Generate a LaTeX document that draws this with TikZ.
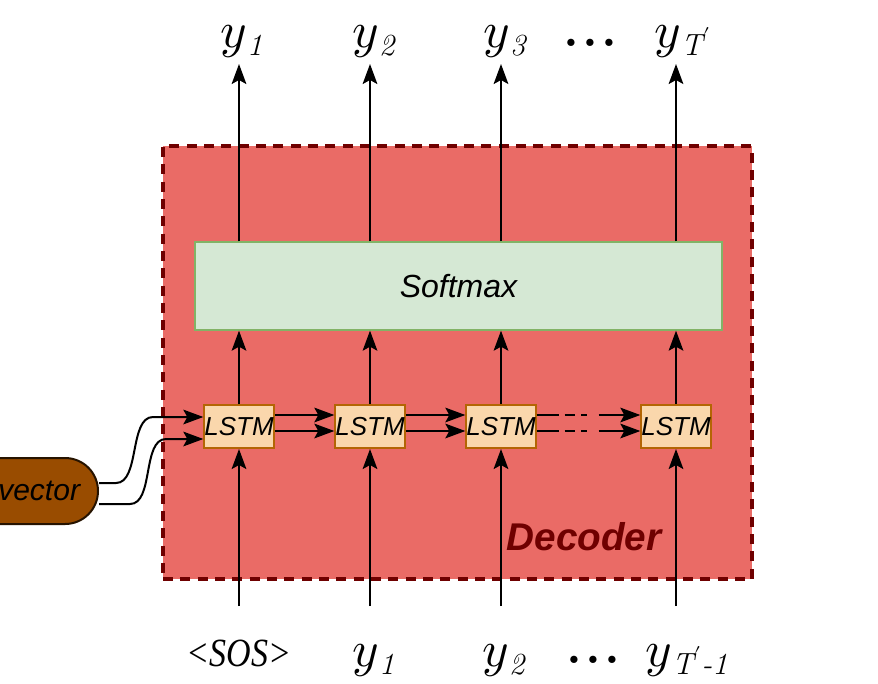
\documentclass[tikz,border=0pt]{standalone}
\usepackage{amsmath}
\usepackage{unicode-math}
\setmathfont{Latin Modern Math}
\newfontfamily\sansf{Liberation Sans}
\newfontfamily\seriff{Liberation Serif}
\usetikzlibrary{arrows.meta}
\definecolor{decfill}{HTML}{EA6B66}
\definecolor{decline}{HTML}{6F0000}
\definecolor{smfill}{HTML}{D5E8D4}
\definecolor{smline}{HTML}{82B366}
\definecolor{lsfill}{HTML}{FAD7AC}
\definecolor{lsline}{HTML}{B46504}
\definecolor{vecfill}{HTML}{994C00}
\newcommand{\ysub}[1]{$y$\kern0.5pt\raisebox{-6pt}{\fontsize{23}{23}\selectfont\itshape #1}}
\begin{document}
\begin{tikzpicture}[x=0.75pt,y=-0.75pt,
  arr/.style={line width=1.5pt,-{Stealth[length=15pt,width=11pt,inset=3pt]}},
  lstm/.style={draw=lsline,fill=lsfill,line width=1.5pt,minimum width=49.5pt,minimum height=32.25pt,inner sep=0pt,font=\sansf\itshape\fontsize{19.5}{22}\selectfont},
  ylab/.style={anchor=base west,inner sep=0pt,font=\fontsize{38}{40}\selectfont},
  dotlab/.style={anchor=base west,inner sep=0pt,font=\fontsize{38}{40}\selectfont\bfseries},
]
\useasboundingbox (0,0) rectangle (878,683);
% decoder box
\node[draw=decline,fill=decfill,line width=3pt,dash pattern=on 7.5pt off 5.5pt,minimum width=441.75pt,minimum height=324.75pt,inner sep=0pt] (dec) at (457.5,362.5) {};
\node[font=\sansf\bfseries\itshape\fontsize{29}{32}\selectfont,text=decline,inner sep=0pt] (dlab) at (584,537) {Decoder};
% softmax
\node[draw=smline,fill=smfill,line width=1pt,minimum width=395.25pt,minimum height=66pt,inner sep=0pt,font=\sansf\itshape\fontsize{24}{28}\selectfont] (sm) at (458.5,286) {Softmax};
% LSTMs
\node[lstm] (l1) at (239,426.5) {LSTM};
\node[lstm] (l2) at (370,426.5) {LSTM};
\node[lstm] (l3) at (501,426.5) {LSTM};
\node[lstm] (l4) at (676,426.5) {LSTM};
% vector pill
\node[draw=black!75!vecfill,fill=vecfill,line width=1.5pt,rounded corners=24.75pt,minimum height=49.5pt,text width=91.5pt,align=right,inner xsep=13.5pt,inner ysep=0pt,font=\sansf\itshape\fontsize{22.5}{24}\selectfont] (v) at (19,491) {vector};
% top labels
\node[ylab] (o1) at (220,47) {\ysub{1}};
\node[ylab] (o2) at (352,47) {\ysub{2}};
\node[ylab] (o3) at (483,47) {\ysub{3}};
\node[dotlab] (od) at (563,46) {.\kern2.5pt.\kern2.5pt.};
\node[ylab] (o4) at (654,47) {\ysub{T\kern0.5pt$'$}};
% bottom labels
\node[anchor=base,inner sep=0pt,font=\seriff\itshape\fontsize{30}{32}\selectfont] (i1) at (239,666) {\scalebox{0.85}[1]{<SOS>}};
\node[ylab] (i2) at (352,666) {\ysub{1}};
\node[ylab] (i3) at (482,666) {\ysub{2}};
\node[dotlab] (id) at (566,663) {.\kern2.5pt.\kern2.5pt.};
\node[ylab] (i4) at (645,666) {\ysub{T\kern0.5pt$'$-1}};
% helper coordinates
\coordinate (ta) at (0,64);
\coordinate (ba) at (0,606);
\coordinate (ha) at (0,415);
\coordinate (hb) at (0,431);
\coordinate (ia) at (0,417);
\coordinate (ib) at (0,439);
\coordinate (va) at (0,483);
\coordinate (vb) at (0,504);
% vertical arrows
\foreach \i in {1,2,3,4}{
  \draw[arr] (l\i.north) -- (l\i.north |- sm.south);
  \draw[arr] (sm.north -| l\i) -- (l\i |- ta);
  \draw[arr] (l\i |- ba) -- (l\i.south);
}
% horizontal arrows
\draw[arr] (l1.east |- ha) -- (l2.west |- ha);
\draw[arr] (l1.east |- hb) -- (l2.west |- hb);
\draw[arr] (l2.east |- ha) -- (l3.west |- ha);
\draw[arr] (l2.east |- hb) -- (l3.west |- hb);
\draw[arr,dash pattern=on 16.5pt off 4.5pt on 7.5pt off 5pt on 4pt off 9pt on 100pt] (l3.east |- ha) -- (l4.west |- ha);
\draw[arr,dash pattern=on 16.5pt off 4.5pt on 7.5pt off 5pt on 4pt off 9pt on 100pt] (l3.east |- hb) -- (l4.west |- hb);
% vector inputs
\draw[arr] (v.east |- va) -- (116,483) .. controls (140,483) and (129,417) .. (153,417) -- (l1.west |- ia);
\draw[arr] (v.east |- vb) -- (130,504) .. controls (154,504) and (142,439) .. (166,439) -- (l1.west |- ib);
\end{tikzpicture}
\end{document}
